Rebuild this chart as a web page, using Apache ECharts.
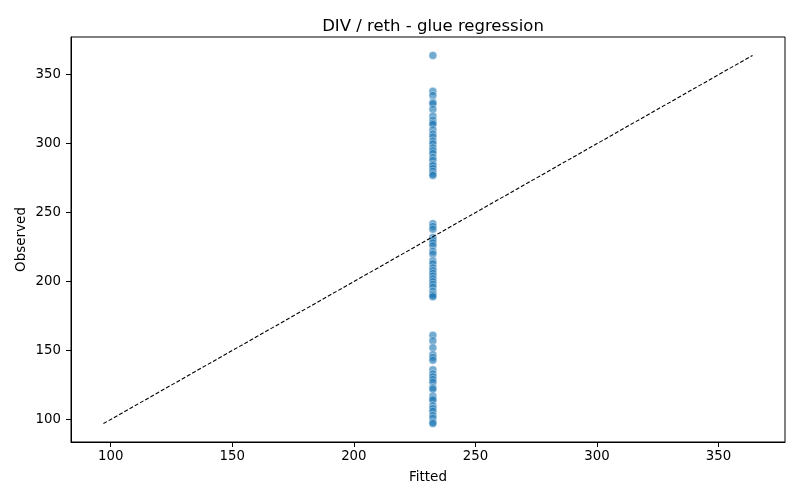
<!DOCTYPE html>
<html>
<head>
<meta charset="utf-8">
<script src="https://cdn.jsdelivr.net/npm/echarts@6/dist/echarts.min.js"></script>
<style>html,body{margin:0;padding:0;background:#fff;}#c{width:800px;height:500px;}</style>
</head>
<body>
<div id="c"></div>
<script>
const fittedValue = 232.5;
const observed = [
  364, 338, 335, 330, 329, 325, 320, 317, 315, 314, 310, 307, 305, 302, 300, 297, 295, 293, 290, 288, 285, 284, 282, 280, 278, 277,
  242, 240, 238, 232, 230, 228, 226, 222, 220, 215, 213, 210, 208, 206, 204, 202, 200, 198, 196, 193, 191, 190, 189,
  161, 157, 152, 147, 145, 143, 136, 133, 131, 129, 127, 123, 122, 117, 115, 114, 110, 108, 106, 103, 101, 98, 97
];
const lineEnds = [97, 364];
const tickValues = [100, 150, 200, 250, 300, 350];
const axisMin = 83.65, axisMax = 377.35;

const chart = echarts.init(document.getElementById('c'));
const font = 'DejaVu Sans';
function axis(name, gap, isY) {
  return {
    type: 'value', min: axisMin, max: axisMax, name: name, nameLocation: 'middle', nameGap: gap,
    nameMoveOverlap: false,
    nameTextStyle: {fontFamily: font, fontSize: 13.5, color: '#000'},
    axisLine: {show: true, onZero: false, lineStyle: {color: '#000', width: 1}},
    axisTick: {show: true, length: 5, lineStyle: {color: '#000'}, customValues: tickValues},
    axisLabel: {fontFamily: font, fontSize: 13.3, color: '#000', margin: isY ? 10 : 8, customValues: tickValues},
    splitLine: {show: false}
  };
}
chart.setOption({
  animation: false,
  title: {text: 'DIV / reth - glue regression', left: 428, textAlign: 'center', top: 13,
    textStyle: {fontFamily: font, fontSize: 16.5, fontWeight: 'normal', color: '#000'}},
  grid: {left: 71, right: 15, top: 37, bottom: 58, show: true, borderColor: '#000', borderWidth: 1},
  xAxis: axis('Fitted', 28, false),
  yAxis: axis('Observed', 43, true),
  series: [
    {type: 'scatter', data: observed.map(v => [fittedValue, v]), symbolSize: 8,
      itemStyle: {color: 'rgba(31,119,180,0.78)', borderColor: '#fff', borderWidth: 0.5}},
    {type: 'line', data: lineEnds.map(v => [v, v]), symbol: 'none',
      lineStyle: {color: '#000', width: 1.1, type: [4, 2]}, z: 3}
  ]
});
</script>
</body>
</html>
